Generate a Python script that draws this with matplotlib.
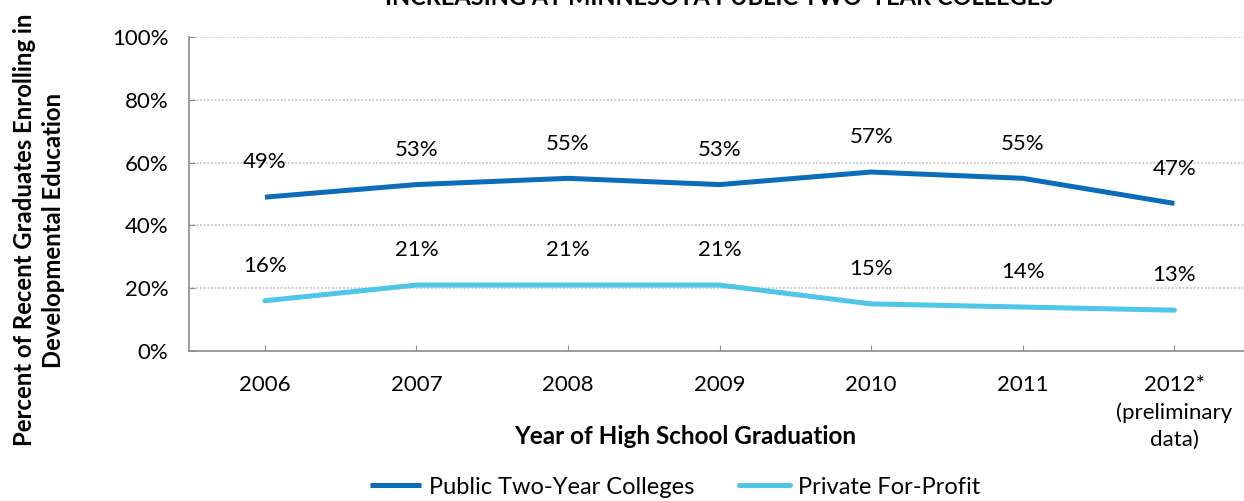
import matplotlib.pyplot as plt
from matplotlib.ticker import PercentFormatter

plt.rcParams['font.family'] = ['Lato', 'DejaVu Sans']

years = ["2006", "2007", "2008", "2009", "2010", "2011", "2012*\n(preliminary\ndata)"]
public_two_year = [49, 53, 55, 53, 57, 55, 47]
private_for_profit = [16, 21, 21, 21, 15, 14, 13]

dark_blue = "#0B6DBA"
light_blue = "#4EC6E8"
axis_grey = "#8C8C8C"

fig = plt.figure(figsize=(12.44, 5.01), dpi=100)
ax = fig.add_axes([0.152, 0.2994, 0.853, 0.6267])

x = range(len(years))
ax.plot(x, public_two_year, color=dark_blue, lw=3.6, solid_capstyle="butt",
        label="Public Two-Year Colleges")
ax.plot(x, private_for_profit, color=light_blue, lw=3.6, solid_capstyle="round",
        label="Private For-Profit")

for xi, v in zip(x, public_two_year):
    ax.annotate(f"{v}%", (xi, v), xytext=(0, 25), textcoords="offset points",
                ha="center", va="center", fontsize=16)
for xi, v in zip(x, private_for_profit):
    ax.annotate(f"{v}%", (xi, v), xytext=(0, 25), textcoords="offset points",
                ha="center", va="center", fontsize=16)

ax.set_xlim(-0.5, len(years) - 0.5)
ax.set_ylim(0, 100)
ax.set_yticks(range(0, 101, 20))
ax.yaxis.set_major_formatter(PercentFormatter(decimals=0))
ax.set_xticks(list(x))
ax.set_xticklabels(years, linespacing=1.45)

ax.grid(axis="y", color="#BFBFBF", linestyle=(0, (1.2, 1.2)), lw=1.1)
ax.set_axisbelow(True)
for side in ("top", "right"):
    ax.spines[side].set_visible(False)
for side in ("left", "bottom"):
    ax.spines[side].set_color(axis_grey)
    ax.spines[side].set_linewidth(1.2)
ax.tick_params(axis="y", direction="in", length=4, color=axis_grey, pad=15, labelsize=16)
ax.tick_params(axis="x", direction="in", length=4, color=axis_grey, pad=17, labelsize=16)

fig.text(0.578, 1 - 5 / 501, "INCREASING AT MINNESOTA PUBLIC TWO-YEAR COLLEGES",
         ha="center", va="baseline", fontsize=17, fontweight="bold")
fig.text(685 / 1244, 1 - 436 / 501, "Year of High School Graduation",
         ha="center", va="center", fontsize=17.5, fontweight="bold")
fig.text(39 / 1244, 1 - 230 / 501,
         "Percent of Recent Graduates Enrolling in\nDevelopmental Education",
         ha="center", va="center", rotation=90, fontsize=17.2, fontweight="bold",
         linespacing=1.28)

fig.legend(loc="center", bbox_to_anchor=(675 / 1244, 1 - 487 / 501), ncol=2,
           frameon=False, fontsize=17, handlelength=2.15, handletextpad=0.34,
           columnspacing=1.9)

fig.savefig("out.png", dpi=100)
